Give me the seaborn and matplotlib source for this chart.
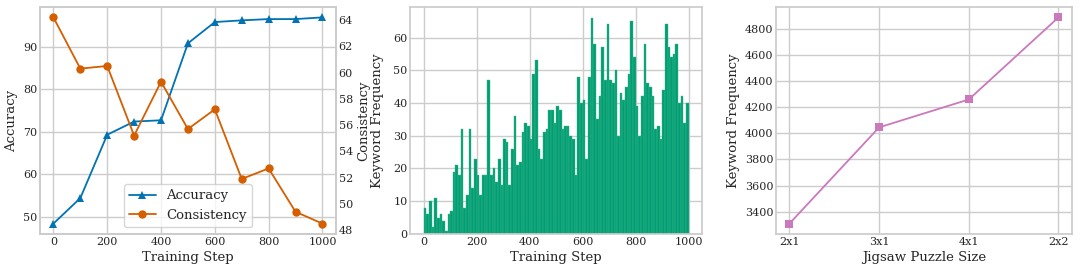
import numpy as np
import pandas as pd
import seaborn as sns
import matplotlib
matplotlib.use('Agg')
import matplotlib.pyplot as plt

# left panel: accuracy / consistency over training
steps = [0, 100, 200, 300, 400, 500, 600, 700, 800, 900, 1000]
accuracy = [48.4, 54.4, 69.3, 72.4, 72.7, 90.8, 95.8, 96.2, 96.5, 96.5, 96.9]
consistency = [64.2, 60.3, 60.5, 55.2, 59.3, 55.7, 57.2, 51.9, 52.7, 49.4, 48.5]

# middle panel: keyword frequency per 10 steps
bar_steps = list(range(0, 1000, 10))
keyword_freq = [8, 6, 10, 2, 11, 5, 6, 4, 1, 6,
                7, 19, 21, 18, 32, 8, 12, 32, 14, 23,
                18, 12, 18, 18, 47, 18, 20, 16, 23, 15,
                29, 28, 15, 26, 36, 21, 22, 31, 34, 33,
                29, 49, 53, 26, 23, 31, 32, 38, 38, 34,
                39, 38, 32, 33, 33, 30, 29, 18, 48, 40,
                41, 23, 48, 66, 58, 35, 42, 57, 47, 64,
                47, 46, 50, 30, 43, 41, 45, 49, 65, 54,
                39, 30, 42, 58, 46, 45, 42, 32, 33, 29,
                44, 64, 57, 54, 55, 58, 40, 42, 34, 40]

# right panel: keyword frequency vs puzzle size
puzzle_sizes = ['2x1', '3x1', '4x1', '2x2']
puzzle_freq = [3310, 4045, 4258, 4885]

sns.set_theme(style='whitegrid')
plt.rcParams['font.family'] = ['DejaVu Serif']
pal = sns.color_palette('colorblind')

fig = plt.figure(figsize=(10.8, 2.72), dpi=100)
ax1 = fig.add_axes([0.037, 0.140, 0.274, 0.834])
ax2 = fig.add_axes([0.380, 0.140, 0.270, 0.834])
ax3 = fig.add_axes([0.7185, 0.140, 0.274, 0.834])

lab_fs = 9.5
tick_fs = 8

# --- left ---
df1 = pd.DataFrame({'step': steps, 'acc': accuracy, 'cons': consistency})
sns.lineplot(data=df1, x='step', y='acc', ax=ax1, color=pal[0], marker='^',
             markersize=6, markeredgewidth=0, linewidth=1.3, label='Accuracy', legend=False)
ax1b = ax1.twinx()
sns.lineplot(data=df1, x='step', y='cons', ax=ax1b, color=pal[3], marker='o',
             markersize=6, markeredgewidth=0, linewidth=1.3, label='Consistency', legend=False)
ax1b.grid(False)
ax1.set_xticks([0, 200, 400, 600, 800, 1000])
ax1.set_yticks([50, 60, 70, 80, 90])
ax1b.set_yticks([48, 50, 52, 54, 56, 58, 60, 62, 64])
ax1.set_xlabel('Training Step', fontsize=lab_fs, labelpad=3)
ax1.set_ylabel('Accuracy', fontsize=lab_fs)
ax1b.set_ylabel('Consistency', fontsize=lab_fs)
ax1.yaxis.set_label_coords(-0.075, 0.5)
ax1b.yaxis.set_label_coords(1.072, 0.5)
for s in ax1b.spines.values():
    s.set_color('.8')
h1, l1 = ax1.get_legend_handles_labels()
h2, l2 = ax1b.get_legend_handles_labels()
ax1.legend(h1 + h2, l1 + l2, loc='lower center', fontsize=lab_fs, frameon=True)

# --- middle ---
df2 = pd.DataFrame({'step': bar_steps, 'freq': keyword_freq})
sns.histplot(data=df2, x='step', weights='freq', binwidth=10, binrange=(0, 1000), ax=ax2,
             color=pal[2], alpha=1, edgecolor='#40b990', linewidth=0.3)
ax2.set_xticks([0, 200, 400, 600, 800, 1000])
ax2.set_yticks([0, 10, 20, 30, 40, 50, 60])
ax2.set_xlabel('Training Step', fontsize=lab_fs, labelpad=3)
ax2.set_ylabel('Keyword Frequency', fontsize=lab_fs)
ax2.yaxis.set_label_coords(-0.09, 0.5)

# --- right ---
sns.lineplot(x=puzzle_sizes, y=puzzle_freq, ax=ax3, color=pal[4], marker='s',
             markersize=6, markeredgewidth=0, linewidth=1.3)
ax3.set_xlabel('Jigsaw Puzzle Size', fontsize=lab_fs, labelpad=3)
ax3.set_ylabel('Keyword Frequency', fontsize=lab_fs)
ax3.yaxis.set_label_coords(-0.122, 0.5)

for ax in [ax1, ax1b, ax2, ax3]:
    ax.tick_params(labelsize=tick_fs, length=0, pad=2)

fig.savefig('out.png', dpi=100)
